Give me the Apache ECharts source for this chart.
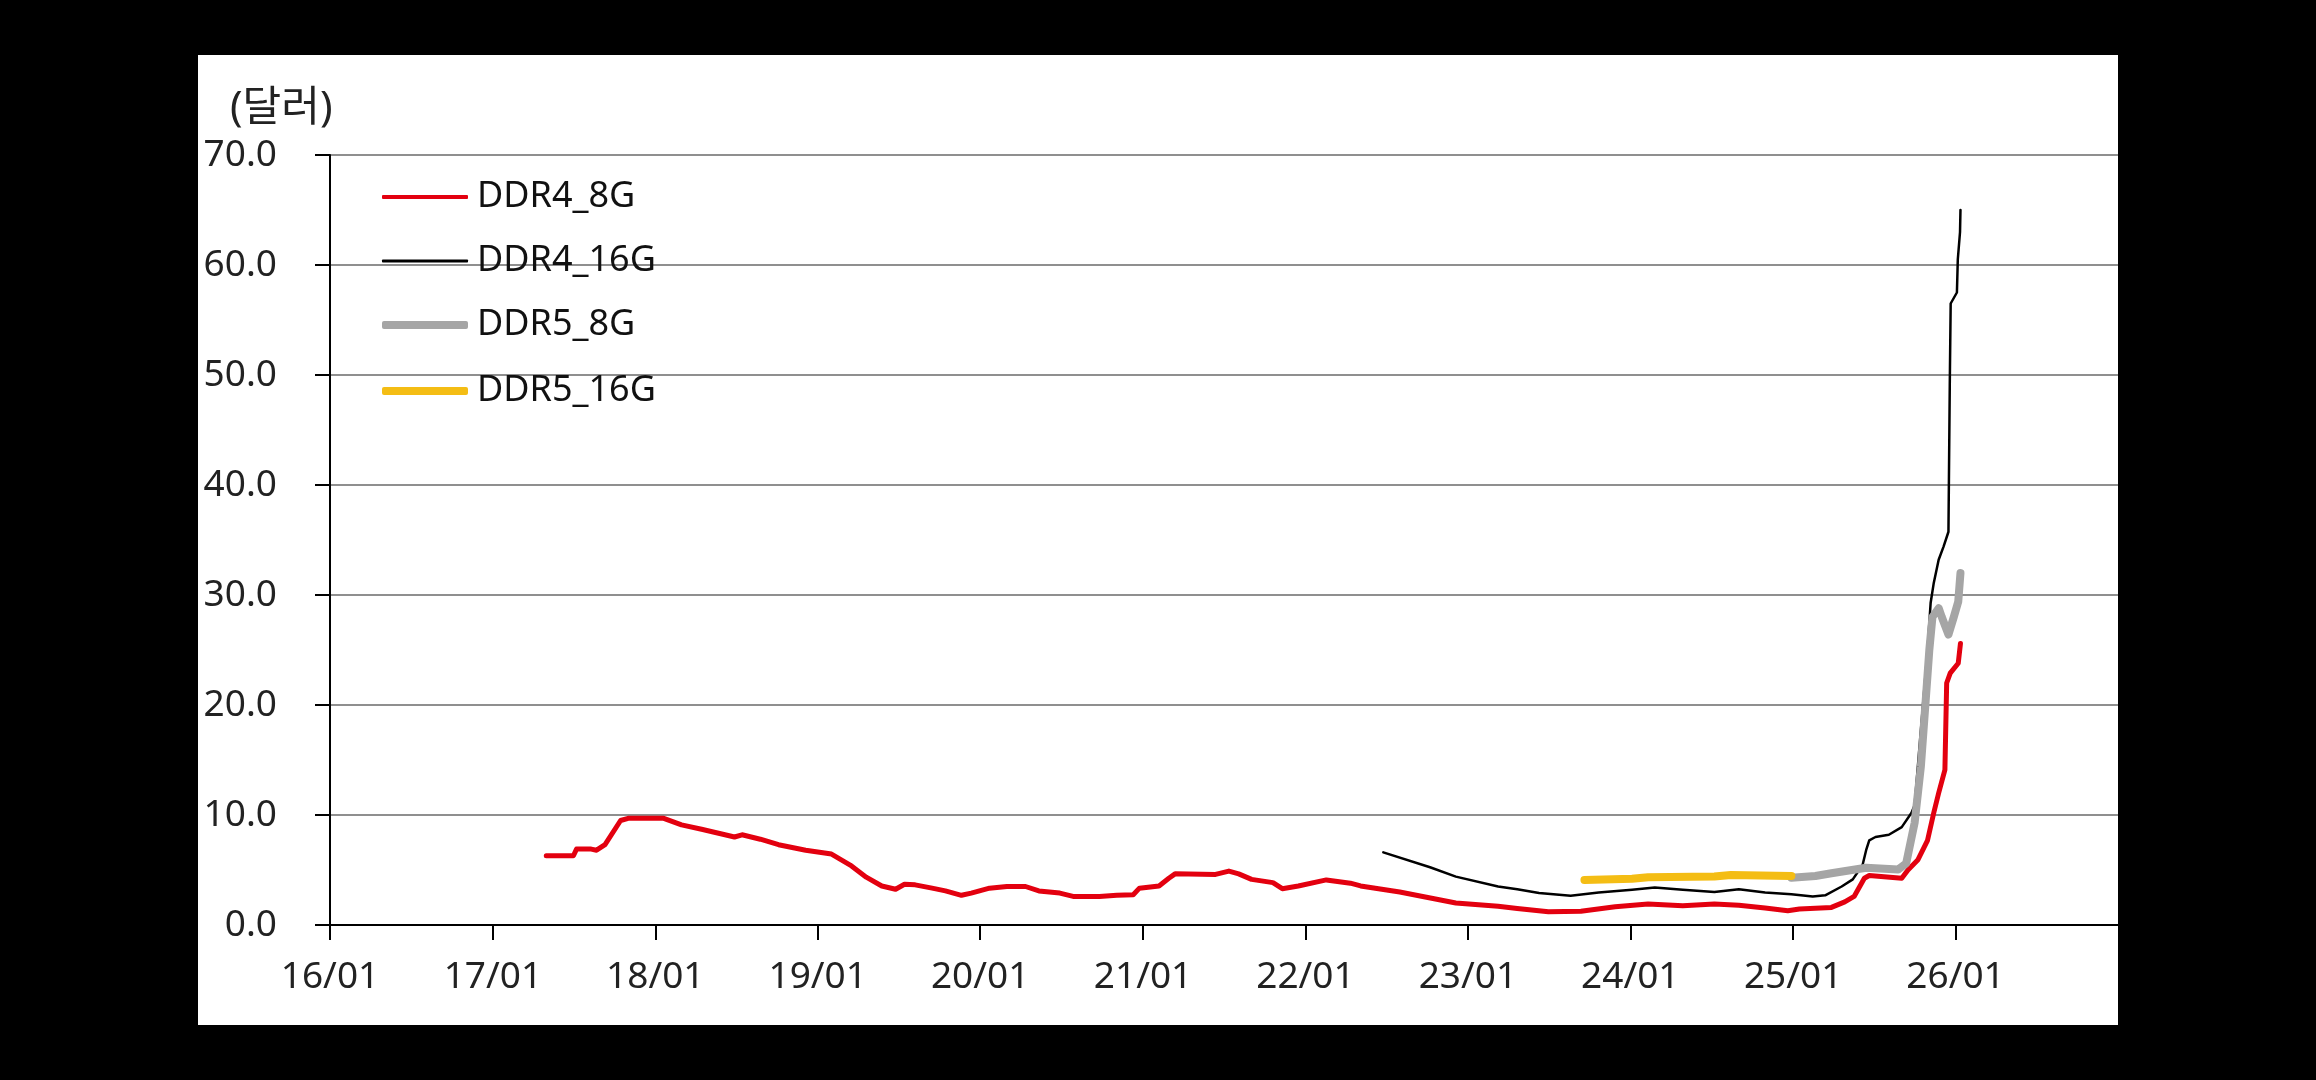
<!DOCTYPE html>
<html>
<head>
<meta charset="utf-8">
<script src="https://cdn.jsdelivr.net/npm/echarts@6/dist/echarts.min.js"></script>
<style>
  html, body { margin: 0; padding: 0; background: #000; }
  #panel { position: absolute; left: 198px; top: 55px; width: 1920px; height: 970px; background: #fff; }
  #chart { width: 1920px; height: 970px; }
</style>
</head>
<body>
<div id="panel"><div id="chart"></div></div>
<script>
// DDR4_8G
const ddr4_8gDates = ['2017-05-01', '2017-07-01', '2017-07-08', '2017-08-10', '2017-08-22', '2017-09-10', '2017-10-15', '2017-11-01',
  '2018-01-20', '2018-03-01', '2018-04-15', '2018-06-28', '2018-07-15', '2018-08-25', '2018-10-05', '2018-12-05',
  '2019-02-01', '2019-03-15', '2019-04-20', '2019-05-25', '2019-06-25', '2019-07-15', '2019-08-08', '2019-09-15',
  '2019-10-15', '2019-11-20', '2019-12-12', '2020-01-22', '2020-03-01', '2020-04-12', '2020-05-12', '2020-06-28',
  '2020-07-28', '2020-09-25', '2020-11-03', '2020-12-10', '2020-12-24', '2021-02-06', '2021-02-28', '2021-03-14',
  '2021-06-13', '2021-07-13', '2021-08-04', '2021-09-02', '2021-10-20', '2021-11-10', '2021-12-16', '2022-02-17',
  '2022-04-12', '2022-05-05', '2022-08-01', '2022-12-05', '2023-03-10', '2023-04-22', '2023-07-01', '2023-09-12',
  '2023-11-28', '2024-02-10', '2024-04-28', '2024-07-08', '2024-09-01', '2024-10-30', '2024-12-20', '2025-01-15',
  '2025-03-28', '2025-04-27', '2025-05-18', '2025-06-10', '2025-06-21', '2025-09-02', '2025-09-16', '2025-10-08',
  '2025-10-30', '2025-11-13', '2025-11-24', '2025-12-08', '2025-12-12', '2025-12-20', '2026-01-07', '2026-01-12']
const ddr4_8gValues = [6.3, 6.3, 6.9, 6.9, 6.8, 7.3, 9.5, 9.7,
  9.7, 9.1, 8.7, 8.0, 8.2, 7.8, 7.3, 6.8,
  6.45, 5.45, 4.35, 3.55, 3.25, 3.7, 3.65, 3.35,
  3.1, 2.7, 2.9, 3.35, 3.5, 3.5, 3.1, 2.9,
  2.6, 2.6, 2.7, 2.75, 3.35, 3.55, 4.25, 4.65,
  4.6, 4.9, 4.65, 4.15, 3.85, 3.3, 3.55, 4.1,
  3.8, 3.55, 3.0, 2.0, 1.7, 1.5, 1.2, 1.25,
  1.65, 1.9, 1.75, 1.9, 1.8, 1.55, 1.3, 1.45,
  1.6, 2.1, 2.6, 4.25, 4.5, 4.25, 5.0, 5.9,
  7.7, 10.2, 12.0, 14.1, 22.0, 22.9, 23.8, 25.6]

// DDR4_16G
const ddr4_16gDates = ['2022-06-25', '2022-10-08', '2022-12-05', '2023-03-10', '2023-04-22', '2023-06-10', '2023-08-20', '2023-10-22',
  '2024-01-05', '2024-02-25', '2024-04-28', '2024-07-08', '2024-09-01', '2024-10-30', '2024-12-28', '2025-02-14',
  '2025-03-14', '2025-04-20', '2025-05-15', '2025-06-06', '2025-06-14', '2025-06-21', '2025-07-05', '2025-08-04',
  '2025-09-02', '2025-09-24', '2025-10-01', '2025-10-30', '2025-11-06', '2025-11-13', '2025-11-24', '2025-12-05',
  '2025-12-16', '2025-12-19', '2025-12-21', '2026-01-04', '2026-01-06', '2026-01-11', '2026-01-12']
const ddr4_16gValues = [6.6, 5.25, 4.4, 3.5, 3.25, 2.9, 2.65, 2.95,
  3.2, 3.4, 3.2, 3.0, 3.25, 2.95, 2.8, 2.6,
  2.7, 3.5, 4.15, 5.45, 6.8, 7.7, 8.0, 8.2,
  8.9, 10.2, 10.9, 25.0, 29.3, 31.1, 33.2, 34.4,
  35.75, 49.3, 56.5, 57.5, 60.5, 63.0, 65.0]

// DDR5_8G
const ddr5_8gDates = ['2024-12-28', '2025-02-20', '2025-03-28', '2025-06-14', '2025-08-25', '2025-09-12', '2025-10-01', '2025-10-15',
  '2025-10-26', '2025-11-03', '2025-11-10', '2025-11-24', '2025-12-01', '2025-12-16', '2025-12-28', '2026-01-07', '2026-01-12']
const ddr5_8gValues = [4.3, 4.45, 4.7, 5.2, 5.05, 5.6, 9.3, 14.4,
  20.5, 25.0, 28.0, 28.8, 28.0, 26.4, 28.0, 29.4, 32.0]

// DDR5_16G
const ddr5_16gDates = ['2023-09-20', '2024-01-05', '2024-02-10', '2024-07-08', '2024-08-14', '2024-12-28']
const ddr5_16gValues = [4.1, 4.2, 4.35, 4.4, 4.55, 4.45]

const seriesNames = ['DDR4_8G', 'DDR4_16G', 'DDR5_8G', 'DDR5_16G']
const yTicks = [0, 10, 20, 30, 40, 50, 60, 70]

const seriesColors = ['#e3000f', '#000000', '#a5a5a5', '#f4bd14']
const seriesWidths = [5, 2.5, 8, 8]
const legendHeights = [4, 3, 8, 8]
const legendTops = [122, 186, 250, 316]

const FONT = "'Noto Sans', 'Noto Sans CJK KR', sans-serif"

function pairs(dates, values) {
  return dates.map((d, i) => [d, values[i]])
}

const seriesData = [
  pairs(ddr4_8gDates, ddr4_8gValues),
  pairs(ddr4_16gDates, ddr4_16gValues),
  pairs(ddr5_8gDates, ddr5_8gValues),
  pairs(ddr5_16gDates, ddr5_16gValues),
]

const chart = echarts.init(document.getElementById('chart'))

const legends = seriesNames.map((name, i) => ({
  data: [name],
  left: 184,
  top: legendTops[i],
  padding: 0,
  icon: 'roundRect',
  itemWidth: 86,
  itemHeight: legendHeights[i],
  selectedMode: false,
  textStyle: {
    fontFamily: FONT,
    fontSize: 36,
    color: '#111',
    lineHeight: 40,
    padding: [0, 0, 0, 4],
  },
}))

const option = {
  animation: false,
  backgroundColor: '#fff',
  color: seriesColors,
  legend: legends,
  graphic: [{
    type: 'text',
    left: 32,
    top: 33,
    style: {
      text: '(달러)',
      font: '42px ' + FONT,
      fill: '#222',
    },
  }],
  grid: {
    left: 132,
    right: 0,
    top: 100,
    bottom: 100,
  },
  xAxis: {
    type: 'time',
    min: '2016-01-01',
    max: '2027-01-01',
    minInterval: 365 * 24 * 3600 * 1000,
    maxInterval: 366 * 24 * 3600 * 1000,
    splitLine: { show: false },
    axisLine: { lineStyle: { color: '#000', width: 2 } },
    axisTick: { show: true, length: 15, lineStyle: { color: '#000', width: 2 } },
    axisLabel: {
      showMaxLabel: false,
      margin: 34,
      fontFamily: FONT,
      fontSize: 37,
      color: '#222',
      formatter: (val) => {
        const d = new Date(val)
        return String(d.getFullYear()).slice(2) + '/' + String(d.getMonth() + 1).padStart(2, '0')
      },
    },
  },
  yAxis: {
    type: 'value',
    min: yTicks[0],
    max: yTicks[yTicks.length - 1],
    interval: 10,
    axisLine: { show: true, lineStyle: { color: '#000', width: 2 } },
    axisTick: { show: true, length: 15, lineStyle: { color: '#000', width: 2 } },
    splitLine: { show: true, lineStyle: { color: '#8f8f8f', width: 2 } },
    axisLabel: {
      margin: 53,
      fontFamily: FONT,
      fontSize: 37,
      color: '#222',
      formatter: (v) => v.toFixed(1),
    },
  },
  series: seriesNames.map((name, i) => ({
    name,
    type: 'line',
    data: seriesData[i],
    showSymbol: false,
    symbol: 'none',
    lineStyle: {
      color: seriesColors[i],
      width: seriesWidths[i],
      cap: 'round',
      join: 'round',
    },
  })),
}

chart.setOption(option)
</script>
</body>
</html>
